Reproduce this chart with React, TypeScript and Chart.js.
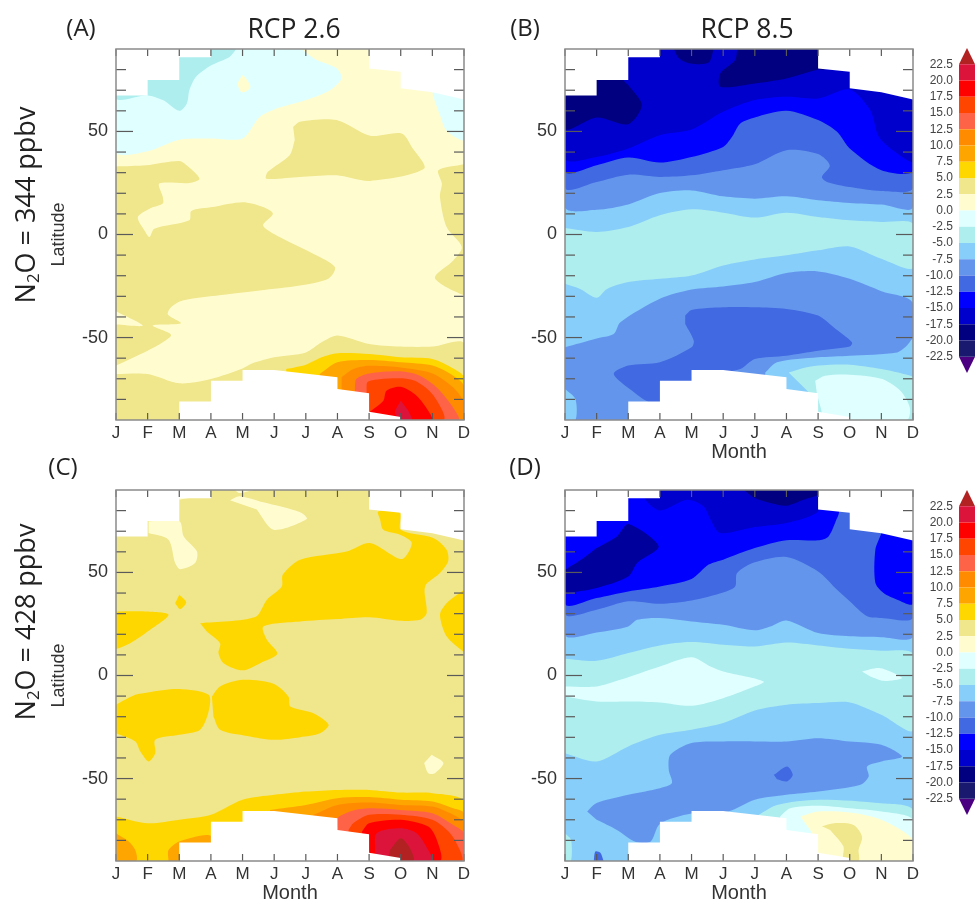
import React, { useEffect, useRef } from "react";
import { Chart, registerables } from "chart.js";

Chart.register(...registerables);

type Pt = [number, number];
type Layer = [string, Pt[]];

const MONTHS = ["J", "F", "M", "A", "M", "J", "J", "A", "S", "O", "N", "D"];
const LAT_MAJOR = [-50, 0, 50];
const LAT_MINOR = [-80, -70, -60, -40, -30, -20, -10, 10, 20, 30, 40, 60, 70, 80];

const BAND_EDGES = [-22.5, -20, -17.5, -15, -12.5, -10, -7.5, -5, -2.5, 0, 2.5, 5, 7.5, 10, 12.5, 15, 17.5, 20, 22.5];
const MIDNIGHT = "#191970", NAVY = "#000080", MEDIUM = "#0000CD", BLUE = "#0000FF", ROYAL = "#4169E1",
  CORN = "#6495ED", SKY = "#87CEFA", TURQ = "#AFEEEE", CYAN = "#E0FFFF", LEMON = "#FFFDD0", KHAKI = "#F0E68C",
  GOLD = "#FFD700", ORANGE = "#FFA500", DARKOR = "#FF8C00", TOMATO = "#FF6347", ORRED = "#FF4500", RED = "#FF0000",
  CRIMSON = "#DC143C", BRICK = "#B22222", INDIGO = "#4B0082";
const BAND_COLORS = [MIDNIGHT, NAVY, MEDIUM, BLUE, ROYAL, CORN, SKY, TURQ, CYAN, LEMON, KHAKI, GOLD, ORANGE, DARKOR, TOMATO, ORRED, RED, CRIMSON];

const WHOLE: Pt[] = [[0, 90], [11, 90], [11, -90], [0, -90]];

// missing-data regions, shared by the four panels
const MASK_NW: Pt[] = [[0, 90], [3, 90], [3, 86], [2, 86], [2, 75], [1, 75], [1, 67.5], [0, 67.5]];
const MASK_NE: Pt[] = [[8, 90], [11, 90], [11, 65.5], [10, 69], [9, 71], [9, 79], [8, 80.5]];
const MASK_S: Pt[] = [[2, -90], [2, -81], [3, -81], [3, -71], [4, -71], [4, -65.7], [5, -65.7], [7, -69.3], [7, -75], [8, -77], [8, -86], [9, -88.5], [9, -90]];

// Panel A
const A_cyanN: Pt[] = [[0, 90], [0, 40], [1, 40.4], [2, 46], [3, 46.6], [4, 46.6], [4.54, 57], [5, 60.7], [6, 65.2], [6.76, 70], [7.13, 75.7], [6.97, 80.6], [6.3, 85], [5.86, 90]];
const A_turq: Pt[] = [[0, 90], [0, 66], [1, 67.5], [1.48, 65.2], [2, 60], [2.24, 63.6], [2.32, 70], [2.53, 76.5], [3, 82], [3.6, 86.3], [3.8, 90]];
const A_dot: Pt[] = [[4, 77.4], [3.85, 73.3], [3.95, 69.3], [4.1, 69.3], [4.25, 71.7], [4.1, 76]];
const A_cyanE: Pt[] = [[10, 70], [10.03, 67], [10.24, 58], [10.45, 50.3], [11, 46], [11, 70]];
const A_khakiW: Pt[] = [[0, 33], [0.95, 33.6], [2, 35.7], [2.27, 33.1], [2.64, 27.1], [2.32, 25], [1.37, 24.7], [1.48, 18.2], [1.48, 15], [1.06, 12.5], [0.69, 8.4], [0.9, 2], [1.06, -1.2], [1.21, 2.8], [2.32, 6.9], [2.38, 11.4], [3.06, 13.3], [4, 15.6], [4.65, 13.3], [4.96, 10.1], [4.65, 4.4], [5.17, -1.2], [6.02, -7.7], [6.92, -15.8], [6.71, -21.5], [5.81, -24.8], [4.54, -27.2], [3.48, -29.1], [2.11, -32], [1.74, -35.3], [1.64, -38.8], [2.06, -43.1], [1.16, -44.2], [1.74, -48.6], [1.48, -52.3], [1, -56.4], [0, -63.6]];
const A_notch: Pt[] = [[0, -37.2], [0.85, -44.2], [0, -43.7]];
const A_khakiN: Pt[] = [[5.6, 52.2], [5.81, 54.7], [6.97, 55.5], [8.03, 47.9], [9.03, 49], [9.35, 42.5], [9.74, 32], [8.03, 26], [6.97, 28.7], [5.81, 27.9], [4.75, 27.1], [4.8, 30.4], [5.49, 38.5], [5.65, 45.8]];
const A_khakiE: Pt[] = [[11, 34.1], [10.19, 31.2], [10.3, 24.7], [10.24, 18.2], [10.45, 3.6], [10.93, -6.1], [10.66, -12.6], [10.08, -20.7], [10.45, -25.6], [11, -29.6]];
const A_khakiS: Pt[] = [[0, -67.7], [1, -67.7], [2, -72.2], [3, -70.1], [4, -65], [4.3, -62.6], [5, -59.6], [6, -57.2], [6.5, -52.3], [7, -49], [8, -53.1], [9, -54.4], [10, -54.4], [11, -52.8], [11, -90], [0, -90]];
const A_gold: Pt[] = [[5.38, -65.3], [6, -63.2], [6.5, -59.6], [7, -57.6], [8, -58], [9, -59.6], [10, -60.4], [10.66, -65], [11, -69.3], [11, -90], [5.38, -90]];
const A_orange: Pt[] = [[6.44, -67.7], [7, -62], [8, -60.9], [9, -62], [10, -63.6], [10.66, -68.5], [11, -73.4], [11, -90], [6.44, -90]];
const A_darkor: Pt[] = [[7.13, -69.3], [7.5, -65.3], [8, -63.7], [9, -64.5], [10, -67.4], [10.66, -74.2], [11, -81.5], [11, -90], [7.13, -90]];
const A_tomato: Pt[] = [[7.55, -74.2], [7.6, -70], [8, -67.4], [9, -66.4], [9.6, -68.5], [10.14, -74.2], [10.66, -84], [10.82, -90], [7.55, -90]];
const A_orred: Pt[] = [[7.92, -77], [7.97, -71.3], [9, -69.7], [9.5, -71.3], [10.03, -78], [10.35, -90], [7.92, -90]];
const A_red: Pt[] = [[8, -86.4], [8.45, -80.7], [8.55, -75.8], [9, -73.9], [9.5, -78.2], [9.87, -85.5], [9.98, -90], [8, -90]];
const A_crimson: Pt[] = [[9, -80.7], [8.82, -86.4], [9, -90], [9.35, -90], [9.24, -85.5]];

// Panel B
const B_cornN: Pt[] = [[0, 90], [0, 13.3], [1, 12], [2, 14.6], [3, 20.1], [4, 21.4], [5, 18.5], [6, 17.4], [7, 18.5], [8, 16.6], [9, 15.3], [10, 14.5], [11, 13.3], [11, 90]];
const B_royalN: Pt[] = [[0, 90], [0, 22.7], [1, 25.5], [2, 29], [3, 27.9], [4, 28.7], [5, 31.2], [6, 34.1], [7, 40.9], [8, 39], [8.37, 33.5], [8.12, 27.9], [8.28, 25.5], [9, 23], [10, 21.1], [11, 22.7], [11, 90]];
const B_blue: Pt[] = [[0, 90], [0, 30.7], [1, 33.6], [2, 37.3], [3, 34.9], [4, 37.6], [5, 42.5], [5.28, 47.4], [5.54, 53.9], [6, 56.8], [7, 60], [8, 55.5], [8.6, 49.8], [9, 41.7], [10, 31.2], [11, 31.2], [11, 90]];
const B_medium: Pt[] = [[0, 90], [0, 36.8], [1, 37.6], [2, 41.7], [3, 48.2], [4, 50.9], [5, 59.5], [6, 65.2], [7, 66.8], [8, 66], [9, 70.4], [9.65, 60.3], [9.92, 47.4], [10.5, 39.3], [11, 35.7], [11, 90]];
const B_navyW: Pt[] = [[0, 90], [0, 51.4], [1, 56.8], [2, 53.5], [2.43, 62.8], [2, 72.5], [1.85, 75], [1.85, 90]];
const B_navyT: Pt[] = [[3.44, 90], [3.6, 85.5], [3.96, 83], [4.54, 83.4], [4.7, 90]];
const B_navyC: Pt[] = [[5.44, 90], [5.38, 84.7], [4.91, 78.2], [4.91, 71.7], [6, 73.3], [7, 75.7], [8, 80], [8.2, 80], [8.2, 90]];
const B_turq: Pt[] = [[0, 3.1], [1, 1.2], [2, 3.6], [3, 9.3], [4, 12.2], [5, 10.6], [6, 8.2], [7, 10.6], [8, 8.5], [9, 6.9], [10, 6.1], [11, 5.2], [11, -16.3], [10, -11.8], [9, -5.8], [8, -7.7], [7, -10.1], [6, -12.1], [5, -15], [4, -19.9], [3, -21.5], [2, -23.1], [1.33, -26.4], [1, -30.7], [0.48, -26.4], [0, -23.9]];
const B_cornS: Pt[] = [[0, -54.7], [1, -50.4], [1.54, -48.3], [1.75, -42.6], [3, -31.2], [4, -26.7], [5, -25.2], [6, -23.1], [7, -18.7], [8, -17.9], [9, -21.5], [10, -27.5], [11, -33.5], [11, -90], [0, -90]];
const B_skySE: Pt[] = [[6.33, -67], [6.7, -62], [8, -59.6], [9, -58.8], [10.5, -57.2], [10.81, -53.9], [11, -50.7], [11, -90], [6.33, -90]];
const B_skySW: Pt[] = [[0, -75], [0.33, -79.9], [0.33, -90], [0, -90]];
const B_royalS: Pt[] = [[3.8, -39.3], [4, -36.6], [5, -35.3], [6, -35.3], [7, -36.1], [8, -39.3], [8.49, -45], [9.07, -52.3], [9, -54.4], [8, -56.4], [7, -58.8], [6, -60.4], [5.54, -65.3], [4.8, -68], [3.75, -82], [2.7, -81.5], [2.12, -75.8], [1.54, -67.7], [2, -63.6], [3, -62], [4, -54.7], [4.07, -51.5], [3.8, -43.4]];
const B_turqSE: Pt[] = [[7.07, -67], [7.54, -64.8], [8, -63.6], [9, -63.2], [10, -65.3], [10.7, -67.7], [11, -69.6], [11, -90], [8.1, -90], [7.8, -78]];
const B_cyanSE: Pt[] = [[7.91, -71], [8.22, -68.5], [9, -68], [10, -70], [10.6, -75.8], [10.9, -84], [10.8, -90], [8.2, -90], [8.1, -85], [7.96, -77]];

// Panel C
const C_lemonT: Pt[] = [[3.6, 85], [3.9, 87], [4.66, 84], [5.82, 79.2], [6.03, 75.9], [4.98, 70.7], [4.45, 80.5]];
const C_lemonS: Pt[] = [[2, 85.3], [2.6, 87], [2, 87]];
const C_lemonU: Pt[] = [[3.75, 90], [3.9, 88.5], [4.35, 90]];
const C_lemonM: Pt[] = [[1.03, 74.8], [2, 75], [2.14, 67.5], [2.56, 60.2], [2.5, 54.6], [2.03, 51.6], [1.87, 54.6], [1.66, 65.9], [1.03, 69.1]];
const C_lemonB: Pt[] = [[9.98, -38.5], [10.35, -42.5], [10.08, -47.4], [9.87, -47.4], [9.74, -42.5]];
const C_goldN: Pt[] = [[2.66, 25.4], [4.4, 28.4], [4.77, 36.8], [5.24, 43.2], [5.27, 48.9], [5.82, 56.2], [7.29, 60.2], [8.03, 64.3], [9.03, 56.5], [9.35, 64.3], [8.98, 68.3], [8.45, 70.7], [8.35, 75.6], [8.29, 79.6], [8.98, 78.8], [9, 70.7], [10.03, 66.7], [10.45, 61], [10.5, 55.4], [10.24, 49.7], [9.77, 43.2], [9.82, 30.3], [9.61, 27], [8.98, 26.6], [8, 28.3], [7, 27.4], [5.82, 26.2], [4.66, 23.8], [4.77, 17.3], [5.1, 10.5], [4.56, 6], [4, 2.5], [3.4, 6], [3.24, 10.9], [3.29, 15.7], [2.87, 21.4]];
const C_goldDot: Pt[] = [[2, 39.2], [2.22, 35.5], [2.03, 32.2], [1.87, 35.1]];
const C_goldW: Pt[] = [[0, 31.1], [0.98, 31.1], [1.66, 29.5], [1.08, 22.2], [0.45, 15.7], [0, 12.8]];
const C_goldE: Pt[] = [[11, 41.6], [10.45, 35.1], [10.24, 29.5], [10.45, 19], [11, 11.2]];
const C_goldML: Pt[] = [[0, -14.2], [0.61, -9.4], [1, -8.2], [2, -6.6], [2.93, -9.4], [2.93, -17.4], [2.66, -26.3], [2, -28.8], [1.24, -31.2], [1.24, -37.7], [1.03, -41.7], [0.77, -36.9], [0.61, -32], [0, -28]];
const C_goldMR: Pt[] = [[3.03, -10.2], [3.29, -5.3], [4, -2.1], [4.98, -4], [5.45, -10.2], [5.51, -15], [6.24, -18.3], [6.72, -23.9], [6.45, -28], [5.82, -29.9], [5, -31.2], [4.14, -29.3], [3.29, -26.3], [3.08, -19.9]];
const C_goldS: Pt[] = [[0, -68.4], [1, -71.7], [2, -70], [3, -67.6], [4, -60.3], [5, -57.9], [6, -56.3], [7, -55.5], [8, -55.5], [9, -56.8], [10, -57.1], [11, -61.1], [11, -90], [0, -90]];
const C_orangeW: Pt[] = [[0, -76.5], [0.4, -80.5], [0.61, -84.7], [0.64, -90], [0, -90]];
const C_orangeM: Pt[] = [[1.66, -90], [1.66, -84.7], [2, -80.5], [3, -77.8], [3, -90]];
const C_orange: Pt[] = [[4.87, -65.2], [6, -62.8], [7, -59.5], [8, -59], [9, -60.3], [10, -61.1], [10.66, -64.4], [11, -66.8], [11, -90], [4.87, -90]];
const C_darkor: Pt[] = [[6.24, -67.6], [7, -62.8], [8, -61.6], [9, -62.8], [10, -63.6], [10.66, -67.6], [11, -71.7], [11, -90], [6.24, -90]];
const C_tomato: Pt[] = [[7, -74.1], [7, -69.2], [7.5, -65.5], [8, -64.4], [9, -65.2], [10, -66.8], [10.66, -72.5], [11, -76.5], [11, -90], [7, -90]];
const C_orred: Pt[] = [[7.35, -75], [7.5, -71.7], [8, -67.6], [9, -67.6], [10, -70], [10.56, -76.5], [10.87, -84.7], [10.93, -90], [7.35, -90]];
const C_red: Pt[] = [[7.77, -75.8], [8, -71.7], [9, -70], [9.87, -73.3], [10.14, -79.7], [10.24, -90], [8, -90]];
const C_crimson: Pt[] = [[8.19, -85.4], [8.24, -76.5], [9, -74.1], [9.5, -76.5], [9.87, -84.7], [9.98, -90], [8.24, -90]];
const C_brick: Pt[] = [[8.66, -84.7], [9, -79], [9.29, -83.8], [9.4, -90], [8.6, -90]];

// Panel D
const D_cornN: Pt[] = [[0, 90], [0, 19.8], [1, 20.9], [2, 23.8], [2.28, 27], [3, 27.9], [4, 26.2], [5, 24.6], [6, 21.9], [6.49, 23.8], [7, 26.7], [8, 20.6], [9, 19], [10, 18.6], [11, 19], [11, 90]];
const D_royal: Pt[] = [[0, 90], [0, 30], [1, 31.9], [2, 36], [3, 34.8], [4, 36.4], [5, 40.3], [5.38, 43.2], [5.44, 49.7], [6, 54.9], [7, 57.5], [8, 50.5], [8.6, 41.6], [9, 36], [9.55, 28.7], [10, 27.9], [11, 28.3], [11, 90]];
const D_blueW: Pt[] = [[0, 90], [0, 34.8], [1, 37.6], [2, 40.8], [3, 43.2], [4, 46.8], [4.54, 53.8], [5, 56.2], [6, 61.8], [7, 65.6], [8, 65.6], [8.33, 67.5], [8.6, 76.4], [8.66, 79], [8.7, 90]];
const D_blueE: Pt[] = [[10, 70], [10, 69], [9.81, 61], [9.81, 45], [10.07, 40], [10.5, 36.8], [11, 34.8], [11, 70]];
const D_mediumT: Pt[] = [[2.5, 90], [2.54, 85.3], [3, 80.1], [3.86, 85.3], [4.38, 82.1], [4.6, 75.6], [4.91, 69.1], [6, 72], [7, 74], [8, 79.6], [8, 90]];
const D_navyT: Pt[] = [[5.65, 90], [6, 86.1], [6.49, 83.7], [7, 82.4], [7.54, 85.3], [8, 87.7], [8, 90]];
const D_darkW: Pt[] = [[0, 51.3], [0.59, 57], [1, 61.8], [1.64, 67.5], [2, 73.5], [2.96, 62.7], [2.28, 54.6], [2, 48], [1, 42.4], [0, 39.7]];
const D_turq: Pt[] = [[0, 8.1], [1, 7.1], [2, 10.9], [3, 14.6], [4, 16.2], [5, 14.9], [6, 14.1], [7, 16], [8, 14.6], [9, 13], [10, 12], [11, 10.4], [11, -26.7], [10, -19.1], [9, -13.1], [8, -13.4], [7, -14.2], [6, -17], [5, -23.1], [4, -26.3], [3, -28.8], [2, -34.4], [1, -41.7], [0, -37.7]];
const D_cyanC: Pt[] = [[0, -5.3], [1, -5.3], [1.75, -2.1], [3, 4.4], [4, 8.9], [4.6, 4.4], [5, 2], [6.28, -2.9], [5.86, -6.1], [5, -11], [4, -14.7], [3, -13.1], [2, -12.6], [1, -12.6], [0, -10.2]];
const D_cyanN: Pt[] = [[9.39, 2], [9.92, 3.6], [10.39, 1.2], [10.65, -1.3], [10.07, -2.6], [9.65, -0.5]];
const D_cornS: Pt[] = [[0.7, -66], [1, -61.9], [2, -57.9], [3, -54.7], [3.38, -52.2], [3.28, -45.8], [3.33, -38.5], [4, -32.8], [5, -32], [6, -32], [7, -32], [8, -30.4], [9, -32], [10, -33.6], [10.65, -39.3], [10, -41.7], [9.55, -44.1], [9.6, -49], [9.34, -53], [8, -56.3], [7, -57.9], [6, -60.3], [5.16, -66], [4, -67], [3, -72], [2.7, -80.6], [2.22, -80.6], [1.64, -74.9], [1, -70]];
const D_royalDot: Pt[] = [[6.6, -48.2], [7.02, -44.1], [7.2, -48.2], [7.02, -51.4], [6.7, -50.3]];
const D_royalF: Pt[] = [[0.91, -90], [0.96, -85.4], [1.12, -86], [1.22, -90]];
const D_turqSW: Pt[] = [[0, -76.5], [0.19, -79.7], [0.19, -90], [0, -90]];
const D_turqSE: Pt[] = [[6.12, -67.6], [6.7, -62.8], [8, -60.3], [10, -62], [11, -65.2], [11, -90], [6.12, -90]];
const D_cyanSE: Pt[] = [[6.8, -68.4], [7.12, -64.4], [8, -63.2], [9, -64.4], [10, -66], [11, -70], [11, -90], [6.8, -90]];
const D_lemonSE: Pt[] = [[7.44, -68.4], [8, -66], [9, -66.5], [10, -70], [11, -79.7], [11, -90], [7.9, -90], [7.8, -76]];
const D_khakiSE: Pt[] = [[8.12, -73.2], [8.5, -71.7], [9.12, -72.5], [9.39, -78.2], [9.28, -84.6], [9.28, -90], [8.8, -90], [8.8, -83], [8.38, -75]];

// painted first to last
const LAYERS_A: Layer[] = [[LEMON, WHOLE], [CYAN, A_cyanN], [TURQ, A_turq], [LEMON, A_dot], [CYAN, A_cyanE], [KHAKI, A_khakiW], [LEMON, A_notch], [KHAKI, A_khakiN], [KHAKI, A_khakiE], [KHAKI, A_khakiS], [GOLD, A_gold], [ORANGE, A_orange], [DARKOR, A_darkor], [TOMATO, A_tomato], [ORRED, A_orred], [RED, A_red], [CRIMSON, A_crimson]];
const LAYERS_B: Layer[] = [[SKY, WHOLE], [CORN, B_cornN], [ROYAL, B_royalN], [BLUE, B_blue], [MEDIUM, B_medium], [NAVY, B_navyW], [NAVY, B_navyT], [NAVY, B_navyC], [TURQ, B_turq], [CORN, B_cornS], [SKY, B_skySE], [SKY, B_skySW], [ROYAL, B_royalS], [TURQ, B_turqSE], [CYAN, B_cyanSE]];
const LAYERS_C: Layer[] = [[KHAKI, WHOLE], [LEMON, C_lemonT], [LEMON, C_lemonS], [LEMON, C_lemonU], [LEMON, C_lemonM], [LEMON, C_lemonB], [GOLD, C_goldN], [GOLD, C_goldDot], [GOLD, C_goldW], [GOLD, C_goldE], [GOLD, C_goldML], [GOLD, C_goldMR], [GOLD, C_goldS], [ORANGE, C_orangeW], [ORANGE, C_orangeM], [ORANGE, C_orange], [DARKOR, C_darkor], [TOMATO, C_tomato], [ORRED, C_orred], [RED, C_red], [CRIMSON, C_crimson], [BRICK, C_brick]];
const LAYERS_D: Layer[] = [[SKY, WHOLE], [CORN, D_cornN], [ROYAL, D_royal], [BLUE, D_blueW], [BLUE, D_blueE], [MEDIUM, D_mediumT], [NAVY, D_navyT], ["#00009C", D_darkW], [TURQ, D_turq], [CYAN, D_cyanC], [CYAN, D_cyanN], [CORN, D_cornS], [ROYAL, D_royalDot], [ROYAL, D_royalF], [TURQ, D_turqSW], [TURQ, D_turqSE], [CYAN, D_cyanSE], [LEMON, D_lemonSE], [KHAKI, D_khakiSE]];

const FONT = "'Liberation Sans', Arial, sans-serif";
const TEXT = "#333";

const shape = (color: string, pts: Pt[], tension: number) => ({
  data: pts.map(([x, y]) => ({ x, y })),
  showLine: true,
  fill: "shape" as const,
  backgroundColor: color,
  borderWidth: 0,
  pointRadius: 0,
  pointHoverRadius: 0,
  tension,
});

const frameTicks = {
  id: "frameTicks",
  afterDraw(chart: any) {
    const { ctx, chartArea: a, scales } = chart;
    ctx.save();
    ctx.strokeStyle = "#5a5a5a";
    ctx.lineWidth = 1.2;
    const seg = (x1: number, y1: number, x2: number, y2: number) => {
      ctx.beginPath();
      ctx.moveTo(x1, y1);
      ctx.lineTo(x2, y2);
      ctx.stroke();
    };
    MONTHS.forEach((_, i) => {
      const x = scales.x.getPixelForValue(i);
      seg(x, a.top, x, a.top + 7);
      seg(x, a.bottom, x, a.bottom - 7);
    });
    LAT_MINOR.forEach((v) => {
      const y = scales.y.getPixelForValue(v);
      seg(a.left, y, a.left + 10, y);
      seg(a.right, y, a.right - 10, y);
    });
    LAT_MAJOR.forEach((v) => {
      const y = scales.y.getPixelForValue(v);
      seg(a.left, y, a.left + 17, y);
      seg(a.right, y, a.right - 17, y);
    });
    ctx.strokeStyle = "#8a8a8a";
    ctx.lineWidth = 1.5;
    ctx.strokeRect(a.left, a.top, a.right - a.left, a.bottom - a.top);
    ctx.restore();
  },
};

function panelConfig(layers: Layer[], axisW: number, latitude: boolean, month: boolean): any {
  const painted = [...layers.map(([c, p]) => shape(c, p, 0.28)), shape("#ffffff", MASK_NW, 0), shape("#ffffff", MASK_NE, 0), shape("#ffffff", MASK_S, 0)];
  return {
    type: "scatter",
    data: { datasets: painted.reverse() },
    plugins: [frameTicks],
    options: {
      animation: false,
      responsive: false,
      maintainAspectRatio: false,
      events: [],
      layout: { padding: { top: 10, right: 10, left: 0, bottom: 0 } },
      plugins: { legend: { display: false }, tooltip: { enabled: false }, title: { display: false } },
      scales: {
        x: {
          type: "linear",
          min: 0,
          max: 11,
          grid: { display: false, drawTicks: false },
          border: { display: false },
          afterBuildTicks: (s: any) => { s.ticks = MONTHS.map((_, i) => ({ value: i })); },
          afterFit: (s: any) => { s.height = 44; s.paddingLeft = 0; s.paddingRight = 0; },
          ticks: { autoSkip: false, maxRotation: 0, padding: 3, color: TEXT, font: { family: FONT, size: 17 }, callback: (v: number) => MONTHS[v] },
          title: { display: month, text: "Month", color: TEXT, font: { family: FONT, size: 20 }, padding: 0 },
        },
        y: {
          type: "linear",
          min: -90,
          max: 90,
          grid: { display: false, drawTicks: false },
          border: { display: false },
          afterBuildTicks: (s: any) => { s.ticks = LAT_MAJOR.map((value) => ({ value })); },
          afterFit: (s: any) => { s.width = axisW; s.paddingTop = 0; s.paddingBottom = 0; },
          ticks: { padding: 8, color: TEXT, font: { family: FONT, size: 18 } },
          title: { display: latitude, text: "Latitude", color: TEXT, font: { family: FONT, size: 18 }, padding: 48 },
        },
      },
    },
  };
}

function barConfig(): any {
  const bands = BAND_COLORS.map((c, i) =>
    shape(c, [[0, BAND_EDGES[i]], [1, BAND_EDGES[i]], [1, BAND_EDGES[i + 1]], [0, BAND_EDGES[i + 1]]], 0)
  );
  const arrows = [shape(BRICK, [[0, 22.5], [0.5, 25], [1, 22.5]], 0), shape(INDIGO, [[0, -22.5], [0.5, -25], [1, -22.5]], 0)];
  return {
    type: "scatter",
    data: { datasets: [...bands, ...arrows] },
    options: {
      animation: false,
      responsive: false,
      maintainAspectRatio: false,
      events: [],
      layout: { padding: 0 },
      plugins: { legend: { display: false }, tooltip: { enabled: false } },
      scales: {
        x: { type: "linear", min: 0, max: 1, display: false },
        y: {
          type: "linear",
          min: -25,
          max: 25,
          grid: { display: false, drawTicks: false },
          border: { display: false },
          afterBuildTicks: (s: any) => { s.ticks = BAND_EDGES.map((value) => ({ value })); },
          afterFit: (s: any) => { s.width = 54; s.paddingTop = 0; s.paddingBottom = 0; },
          ticks: { autoSkip: false, padding: 6, color: "#444", font: { family: FONT, size: 12 }, callback: (v: number) => v.toFixed(1) },
        },
      },
    },
  };
}

function ChartBox({ make, left, top, width, height }: { make: () => any; left: number; top: number; width: number; height: number }) {
  const ref = useRef<HTMLCanvasElement>(null);
  useEffect(() => {
    const chart = new Chart(ref.current as HTMLCanvasElement, make());
    return () => chart.destroy();
  }, []);
  return <canvas ref={ref} width={width} height={height} style={{ position: "absolute", left, top, width, height, display: "block" }} />;
}

const label = (left: number, top: number, size: number, extra: any = {}): any => ({
  position: "absolute",
  left,
  top,
  transform: "translate(-50%,-50%)",
  fontFamily: "'Open Sans', 'Noto Sans', sans-serif",
  fontSize: size,
  color: "#222",
  whiteSpace: "nowrap",
  lineHeight: 1,
  ...extra,
});

const rotated = { transform: "translate(-50%,-50%) rotate(-90deg)" };
const sub = { fontSize: "0.62em", verticalAlign: "-0.25em", lineHeight: 0 };

export default function App() {
  return (
    <div style={{ position: "absolute", left: 0, top: 0, width: 975, height: 905, overflow: "hidden", background: "#fff" }}>
      <ChartBox make={() => panelConfig(LAYERS_A, 116, true, false)} left={0} top={39} width={474} height={425} />
      <ChartBox make={() => panelConfig(LAYERS_B, 95, false, true)} left={470} top={39} width={453} height={425} />
      <ChartBox make={() => panelConfig(LAYERS_C, 116, true, true)} left={0} top={480} width={474} height={425} />
      <ChartBox make={() => panelConfig(LAYERS_D, 95, false, true)} left={470} top={480} width={453} height={425} />
      <ChartBox make={barConfig} left={905} top={48} width={70} height={325} />
      <ChartBox make={barConfig} left={905} top={490} width={70} height={325} />
      <div style={label(81, 27, 24)}>(A)</div>
      <div style={label(525, 27, 24)}>(B)</div>
      <div style={label(63, 466, 24)}>(C)</div>
      <div style={label(525, 466, 24)}>(D)</div>
      <div style={label(294, 28, 26.5)}>RCP 2.6</div>
      <div style={label(747, 28, 26.5)}>RCP 8.5</div>
      <div style={label(24, 205, 27, rotated)}>N<span style={sub}>2</span>O = 344 ppbv</div>
      <div style={label(24, 622, 27, rotated)}>N<span style={sub}>2</span>O = 428 ppbv</div>
    </div>
  );
}
